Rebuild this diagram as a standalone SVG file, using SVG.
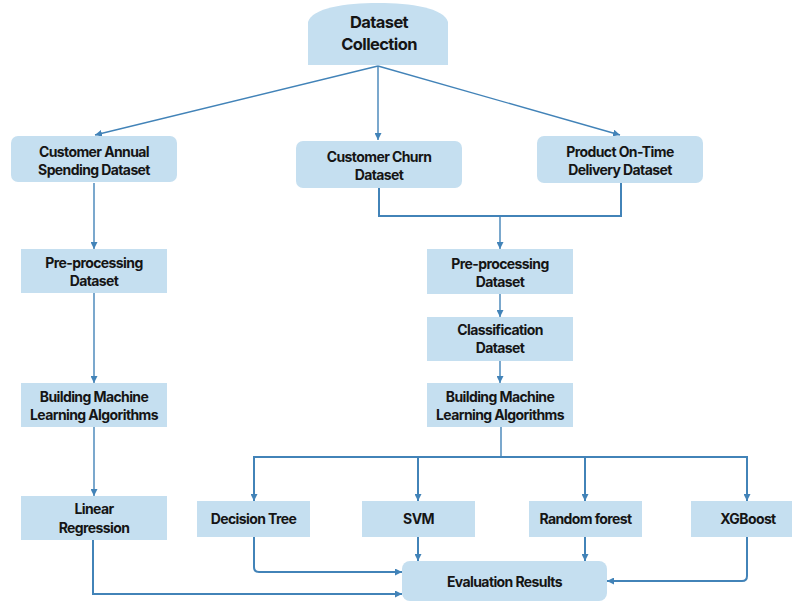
<svg xmlns="http://www.w3.org/2000/svg" width="792" height="601" viewBox="0 0 792 601">
<style>
.box{fill:#c5dff0;stroke:none}
.t{font-family:Inter,"Liberation Sans",sans-serif;font-weight:700;font-size:14px;fill:#151515;text-anchor:middle;letter-spacing:-0.6px}
.tl{font-size:16.5px}
.c{fill:none;stroke:#4283b8;stroke-width:1.4}
.c2{fill:none;stroke:#4283b8;stroke-width:2}
</style>
<defs>
<marker id="ah" viewBox="0 0 7 7" refX="7" refY="3.5" markerWidth="7" markerHeight="7" markerUnits="userSpaceOnUse" orient="auto">
<path d="M0,0 L7,3.5 L0,7 z" fill="#4283b8"/>
</marker>
</defs>
<rect width="792" height="601" fill="#ffffff"/>
<g id="connectors">
<path class="c" d="M378,66 L95,135" marker-end="url(#ah)"/>
<path class="c" d="M378,66 L378,140" marker-end="url(#ah)"/>
<path class="c" d="M378,66 L620,135" marker-end="url(#ah)"/>
<path class="c2" d="M379,188 V216 H621 V183"/>
<path class="c" d="M500,216 V249" marker-end="url(#ah)"/>
<path class="c" d="M94,183 V249" marker-end="url(#ah)"/>
<path class="c" d="M94,293 V383" marker-end="url(#ah)"/>
<path class="c" d="M94,427 V496" marker-end="url(#ah)"/>
<path class="c" d="M500,294 V317" marker-end="url(#ah)"/>
<path class="c" d="M500,361 V383" marker-end="url(#ah)"/>
<path class="c" d="M501,427 V457"/>
<path class="c2" d="M501,457 H254 V501" marker-end="url(#ah)"/>
<path class="c2" d="M501,457 H747 V501" marker-end="url(#ah)"/>
<path class="c2" d="M418,457 V501" marker-end="url(#ah)"/>
<path class="c2" d="M585,457 V501" marker-end="url(#ah)"/>
<path class="c2" d="M254,537 V567 Q254,572 259,572 H402" marker-end="url(#ah)"/>
<path class="c2" d="M418,537 V561" marker-end="url(#ah)"/>
<path class="c2" d="M585,537 V561" marker-end="url(#ah)"/>
<path class="c2" d="M747,537 V576 Q747,581 742,581 H607" marker-end="url(#ah)"/>
<path class="c2" d="M93,540 V594 H402" marker-end="url(#ah)"/>
</g>
<g id="dataset-collection">
<path class="box" d="M308,65 L308,22 C312,8 345,3 378,3 C411,3 444,8 448,22 L448,65 Z"/>
<text class="t tl" x="379" y="28">Dataset</text>
<text class="t tl" x="379" y="50">Collection</text>
</g>
<g id="customer-annual">
<rect class="box" x="11" y="136" width="166" height="46" rx="7"/>
<text class="t" x="94" y="157">Customer Annual</text>
<text class="t" x="94" y="175">Spending Dataset</text>
</g>
<g id="customer-churn">
<rect class="box" x="296" y="141" width="166" height="47" rx="7"/>
<text class="t" x="379" y="162">Customer Churn</text>
<text class="t" x="379" y="180">Dataset</text>
</g>
<g id="product-delivery">
<rect class="box" x="537" y="136" width="166" height="47" rx="7"/>
<text class="t" x="620" y="157">Product On-Time</text>
<text class="t" x="620" y="175">Delivery Dataset</text>
</g>
<g id="left-preprocessing">
<rect class="box" x="21" y="249" width="146" height="44"/>
<text class="t" x="94" y="268">Pre-processing</text>
<text class="t" x="94" y="286">Dataset</text>
</g>
<g id="right-preprocessing">
<rect class="box" x="427" y="249" width="146" height="45"/>
<text class="t" x="500" y="269">Pre-processing</text>
<text class="t" x="500" y="287">Dataset</text>
</g>
<g id="classification">
<rect class="box" x="427" y="317" width="146" height="44"/>
<text class="t" x="500" y="335">Classification</text>
<text class="t" x="500" y="353">Dataset</text>
</g>
<g id="left-building">
<rect class="box" x="21" y="383" width="146" height="44"/>
<text class="t" x="94" y="402">Building Machine</text>
<text class="t" x="94" y="420">Learning Algorithms</text>
</g>
<g id="right-building">
<rect class="box" x="427" y="383" width="146" height="44"/>
<text class="t" x="500" y="402">Building Machine</text>
<text class="t" x="500" y="420">Learning Algorithms</text>
</g>
<g id="linear-regression">
<rect class="box" x="21" y="496" width="146" height="44"/>
<text class="t" x="94" y="514">Linear</text>
<text class="t" x="94" y="533">Regression</text>
</g>
<g id="decision-tree">
<rect class="box" x="197" y="501" width="113" height="36"/>
<text class="t" x="253.5" y="524">Decision Tree</text>
</g>
<g id="svm">
<rect class="box" x="362" y="501" width="113" height="36"/>
<text class="t" x="418.5" y="524">SVM</text>
</g>
<g id="random-forest">
<rect class="box" x="529" y="501" width="113" height="36"/>
<text class="t" x="585.5" y="524">Random forest</text>
</g>
<g id="xgboost">
<rect class="box" x="691" y="501" width="114" height="36"/>
<text class="t" x="748" y="524">XGBoost</text>
</g>
<g id="evaluation">
<rect class="box" x="402" y="561" width="205" height="40" rx="8"/>
<text class="t" x="504.5" y="587">Evaluation Results</text>
</g>
</svg>
